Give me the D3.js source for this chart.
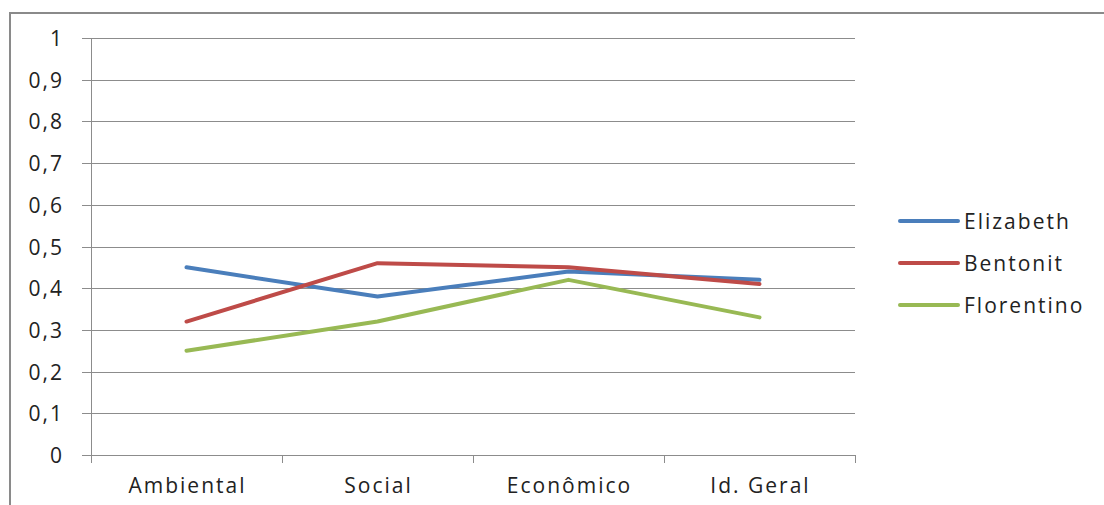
<!DOCTYPE html>
<html>
<head>
<meta charset="utf-8">
<script src="https://cdn.jsdelivr.net/npm/d3@7/dist/d3.min.js"></script>
<style>
  html, body { margin: 0; padding: 0; background: #fff; }
  svg text { font-family: "Open Sans", "Noto Sans", sans-serif; fill: #222; letter-spacing: 2px; }
</style>
</head>
<body>
<svg id="chart" width="1104" height="505"></svg>
<script>
// Indicator categories and index values per property
const categories = ["Ambiental", "Social", "Econômico", "Id. Geral"];
const elizabeth  = [0.45, 0.38, 0.44, 0.42];
const bentonit   = [0.32, 0.46, 0.45, 0.41];
const florentino = [0.25, 0.32, 0.42, 0.33];
const yTicks = [0, 0.1, 0.2, 0.3, 0.4, 0.5, 0.6, 0.7, 0.8, 0.9, 1];
const yTickLabels = ["0", "0,1", "0,2", "0,3", "0,4", "0,5", "0,6", "0,7", "0,8", "0,9", "1"];

const series = [
  { name: "Elizabeth",  values: elizabeth,  color: "#4a7ebb" },
  { name: "Bentonit",   values: bentonit,   color: "#be4b48" },
  { name: "Florentino", values: florentino, color: "#98b954" }
];

const svg = d3.select("#chart");
const plot = { left: 91, right: 855, top: 38, bottom: 455 };
const fontSize = 21;

// Outer chart frame
svg.append("rect")
  .attr("x", 10).attr("y", 13)
  .attr("width", 1110).attr("height", 510)
  .attr("fill", "none").attr("stroke", "#8a8a8a").attr("stroke-width", 2);

const x = d3.scaleBand().domain(categories).range([plot.left, plot.right]);
const y = d3.scaleLinear().domain([0, 1]).range([plot.bottom, plot.top]);

// Horizontal gridlines with left tick marks
const yAxis = d3.axisLeft(y)
  .tickValues(yTicks)
  .tickFormat((d, i) => yTickLabels[i])
  .tickSize(-(plot.right - plot.left))
  .tickPadding(20);

const gy = svg.append("g")
  .attr("transform", `translate(${plot.left},0)`)
  .call(yAxis);
gy.select(".domain").remove();
gy.selectAll(".tick line")
  .attr("x1", -9)
  .attr("stroke", "#8c8c8c").attr("stroke-width", 1)
  .attr("shape-rendering", "crispEdges");
gy.selectAll(".tick text")
  .attr("font-size", fontSize).attr("fill", "#222")
  .attr("x", -27).attr("dy", "0.36em");

// Vertical axis line
svg.append("line")
  .attr("x1", plot.left).attr("x2", plot.left)
  .attr("y1", plot.top).attr("y2", plot.bottom + 8)
  .attr("stroke", "#8c8c8c").attr("shape-rendering", "crispEdges");

// Category axis
const xAxis = d3.axisBottom(x).tickSize(0).tickPadding(0);
const gx = svg.append("g")
  .attr("transform", `translate(0,${plot.bottom})`)
  .call(xAxis);
gx.select(".domain").attr("stroke", "#8c8c8c").attr("shape-rendering", "crispEdges");
gx.selectAll(".tick text")
  .attr("font-size", fontSize).attr("fill", "#222")
  .attr("dx", 1)
  .attr("y", 38).attr("dy", 0);

// Boundary tick marks between categories
const boundaries = categories.map(c => x(c)).concat([x(categories[categories.length - 1]) + x.bandwidth()]);
svg.append("g").selectAll("line").data(boundaries).join("line")
  .attr("x1", d => d).attr("x2", d => d)
  .attr("y1", plot.bottom).attr("y2", plot.bottom + 8)
  .attr("stroke", "#8c8c8c").attr("shape-rendering", "crispEdges");

// Series lines
const line = d3.line()
  .x((d, i) => x(categories[i]) + x.bandwidth() / 2)
  .y(d => y(d));

svg.append("g").selectAll("path").data(series).join("path")
  .attr("d", d => line(d.values))
  .attr("fill", "none")
  .attr("stroke", d => d.color)
  .attr("stroke-width", 4)
  .attr("stroke-linejoin", "round")
  .attr("stroke-linecap", "round");

// Legend
const legend = svg.append("g").selectAll("g").data(series).join("g")
  .attr("transform", (d, i) => `translate(900,${221 + i * 42})`);
legend.append("line")
  .attr("x1", 0).attr("x2", 58)
  .attr("stroke", d => d.color).attr("stroke-width", 4)
  .attr("stroke-linecap", "round");
legend.append("text")
  .attr("x", 64).attr("dy", "0.36em")
  .attr("font-size", fontSize)
  .text(d => d.name);
</script>
</body>
</html>
